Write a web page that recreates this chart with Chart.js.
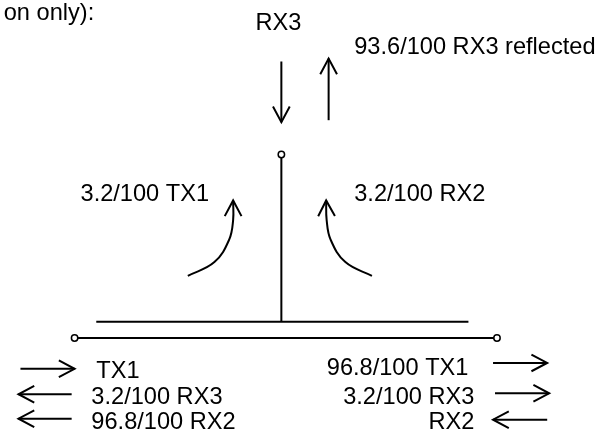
<!DOCTYPE html>
<html>
<head>
<meta charset="utf-8">
<script src="https://cdn.jsdelivr.net/npm/chart.js@4/dist/chart.umd.min.js"></script>
<style>
  html, body { margin: 0; padding: 0; background: #ffffff; }
  canvas { display: block; }
</style>
</head>
<body>
<canvas id="c" width="609" height="443"></canvas>
<script>
// Diagram geometry (in canvas-pixel units)
const lineSegments = [
  [281, 156, 281, 324],   // mast
  [93, 324, 471, 324],    // upper horizontal
  [74, 340.5, 497, 340.5] // lower horizontal
];
// arrows: tail -> tip
const straightArrows = [
  [281, 58, 281, 120],
  [329, 118, 329, 55],
  [16, 372, 71, 372],
  [68, 398, 14, 398],
  [68, 423, 14, 423],
  [496, 366, 551, 366],
  [498, 397, 553, 397],
  [551, 424, 496, 424]
];
const leftArc = [[186, 277], [213, 263], [228, 240], [232, 220], [232, 200]];
const rightArc = [[373, 277], [346, 263], [331, 240], [327, 220], [326.5, 200]];
const terminals = [[281, 153], [71, 340.5], [500, 340.5]];
const labelTexts = [
  "on only):", "RX3", "93.6/100 RX3 reflected", "3.2/100 TX1", "3.2/100 RX2",
  "TX1", "3.2/100 RX3", "96.8/100 RX2", "96.8/100 TX1", "3.2/100 RX3", "RX2"
];
const labelX = [-1, 278, 355, 77, 355, 93, 88, 88, 471, 477, 477];
const labelY = [9, 19, 44, 194, 194, 375, 401, 427, 372, 401, 427];
const labelAlign = ["left", "center", "left", "left", "left", "left", "left", "left", "right", "right", "right"];

const INK = "#000000";
const LW = 2;
const HEAD_LEN = 16, HEAD_HALF = 8.5;

function lineDataset(points, extra) {
  return Object.assign({
    data: points.map(p => ({ x: p[0], y: p[1] })),
    showLine: true,
    borderColor: INK,
    borderWidth: LW,
    pointRadius: 0,
    pointHoverRadius: 0,
    tension: 0,
    clip: false,
    fill: false
  }, extra || {});
}
function headFrom(tx, ty, hx, hy) {
  const dx = hx - tx, dy = hy - ty;
  const L = Math.hypot(dx, dy) || 1;
  const ux = dx / L, uy = dy / L;
  const px = -uy, py = ux;
  return [
    [hx - ux * HEAD_LEN + px * HEAD_HALF, hy - uy * HEAD_LEN + py * HEAD_HALF],
    [hx, hy],
    [hx - ux * HEAD_LEN - px * HEAD_HALF, hy - uy * HEAD_LEN - py * HEAD_HALF]
  ];
}

const datasets = [];
lineSegments.forEach(s => datasets.push(lineDataset([[s[0], s[1]], [s[2], s[3]]])));
straightArrows.forEach(a => {
  datasets.push(lineDataset([[a[0], a[1]], [a[2], a[3]]]));
  datasets.push(lineDataset(headFrom(a[0], a[1], a[2], a[3])));
});
[leftArc, rightArc].forEach(arc => {
  datasets.push(lineDataset(arc, { tension: 0.4 }));
  const n = arc.length;
  datasets.push(lineDataset(headFrom(arc[n - 2][0], arc[n - 2][1], arc[n - 1][0], arc[n - 1][1])));
});
datasets.push({
  data: terminals.map(p => ({ x: p[0], y: p[1] })),
  showLine: false,
  pointRadius: 3.2,
  pointHoverRadius: 3.2,
  pointStyle: "circle",
  pointBackgroundColor: "#ffffff",
  pointBorderColor: INK,
  pointBorderWidth: 1.5,
  clip: false
});

const labelPlugin = {
  id: "diagramLabels",
  afterDatasetsDraw(chart) {
    const ctx = chart.ctx;
    const xs = chart.scales.x, ys = chart.scales.y;
    ctx.save();
    ctx.fillStyle = INK;
    ctx.font = '23.6px "Liberation Sans", Arial, sans-serif';
    ctx.textBaseline = "middle";
    labelTexts.forEach((t, i) => {
      ctx.textAlign = labelAlign[i];
      ctx.fillText(t, xs.getPixelForValue(labelX[i]), ys.getPixelForValue(labelY[i]));
    });
    ctx.restore();
  }
};

new Chart(document.getElementById("c"), {
  type: "scatter",
  data: { datasets },
  options: {
    responsive: false,
    animation: false,
    devicePixelRatio: 1,
    layout: { padding: 0 },
    plugins: { legend: { display: false }, tooltip: { enabled: false } },
    events: [],
    scales: {
      x: { type: "linear", min: 0, max: 609, display: false },
      y: { type: "linear", min: 0, max: 443, reverse: true, display: false }
    }
  },
  plugins: [labelPlugin]
});
</script>
</body>
</html>
